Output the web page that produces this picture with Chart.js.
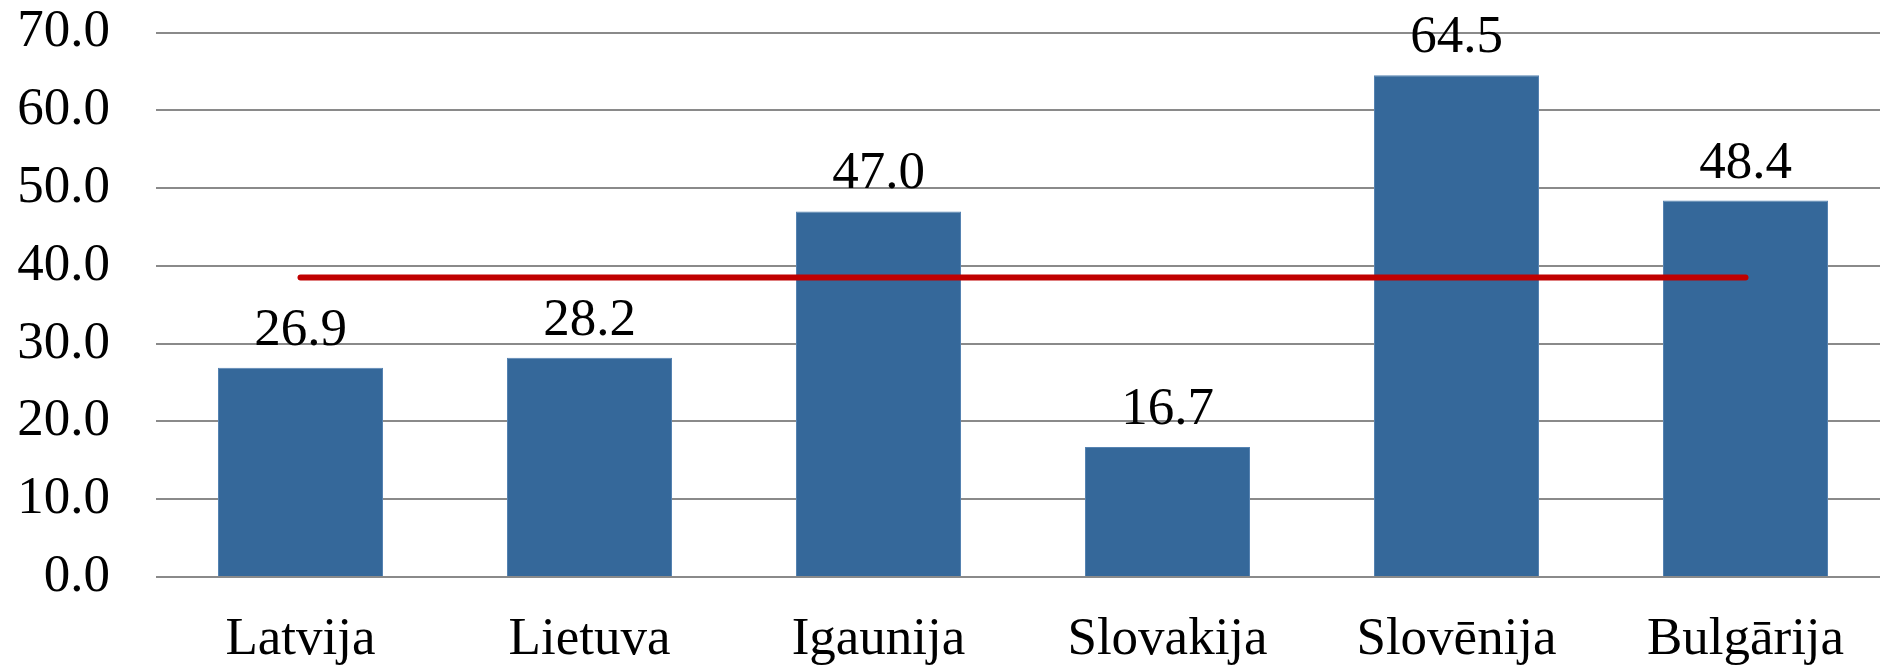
<!DOCTYPE html>
<html>
<head>
<meta charset="utf-8">
<script src="https://cdn.jsdelivr.net/npm/chart.js@4/dist/chart.umd.min.js"></script>
<style>
html,body{margin:0;padding:0;background:#fff;overflow:hidden;width:1880px;height:669px;}
canvas{display:block;}
</style>
</head>
<body>
<canvas id="c" width="1890" height="669"></canvas>
<script>
const categories = ['Latvija', 'Lietuva', 'Igaunija', 'Slovakija', 'Slovēnija', 'Bulgārija'];
const barValues = [26.9, 28.2, 47.0, 16.7, 64.5, 48.4];
const averageValues = [38.5, 38.5, 38.5, 38.5, 38.5, 38.5];
const yTicks = [0, 10, 20, 30, 40, 50, 60, 70];

const FONT = '"Liberation Serif", "Times New Roman", serif';

const barLabels = {
  id: 'barLabels',
  afterDatasetsDraw(chart) {
    const ctx = chart.ctx;
    const meta = chart.getDatasetMeta(1);
    ctx.save();
    ctx.font = '53px ' + FONT;
    ctx.fillStyle = '#000';
    ctx.textAlign = 'center';
    ctx.textBaseline = 'alphabetic';
    meta.data.forEach((el, i) => {
      ctx.fillText(barValues[i].toFixed(1), el.x, el.y - 23);
    });
    ctx.restore();
  }
};

new Chart(document.getElementById('c'), {
  data: {
    labels: categories,
    datasets: [
      {
        type: 'line',
        data: averageValues,
        borderColor: '#C00000',
        borderWidth: 6,
        borderCapStyle: 'round',
        pointRadius: 0,
        fill: false,
        order: 0
      },
      {
        type: 'bar',
        data: barValues,
        backgroundColor: '#35689A',
        borderColor: '#5683B2',
        borderWidth: 1,
        categoryPercentage: 1,
        barPercentage: 0.571,
        order: 1
      }
    ]
  },
  options: {
    responsive: false,
    animation: false,
    devicePixelRatio: 1,
    layout: { autoPadding: false, padding: { top: 32.5, right: 0, left: 0, bottom: 0 } },
    plugins: { legend: { display: false }, tooltip: { enabled: false } },
    scales: {
      x: {
        afterFit(axis) { axis.height = 92; axis.paddingLeft = 0; axis.paddingRight = 0; axis.paddingTop = 0; axis.paddingBottom = 0; },
        grid: { display: false, drawTicks: false },
        border: { display: false },
        ticks: { font: { family: FONT, size: 53, lineHeight: 1 }, color: '#000', padding: 37, maxRotation: 0, autoSkip: false }
      },
      y: {
        min: 0, max: 70,
        afterBuildTicks(axis) { axis.ticks = yTicks.map(v => ({ value: v })); },
        afterFit(axis) { axis.width = 156; axis.paddingTop = 0; axis.paddingBottom = 0; axis.paddingLeft = 0; axis.paddingRight = 0; },
        grid: { color: '#8A8A8A', lineWidth: 2, drawTicks: false },
        border: { display: false },
        ticks: {
          font: { family: FONT, size: 53 },
          color: '#000',
          padding: 46,
          callback: v => Number(v).toFixed(1)
        }
      }
    }
  },
  plugins: [barLabels]
});
</script>
</body>
</html>
